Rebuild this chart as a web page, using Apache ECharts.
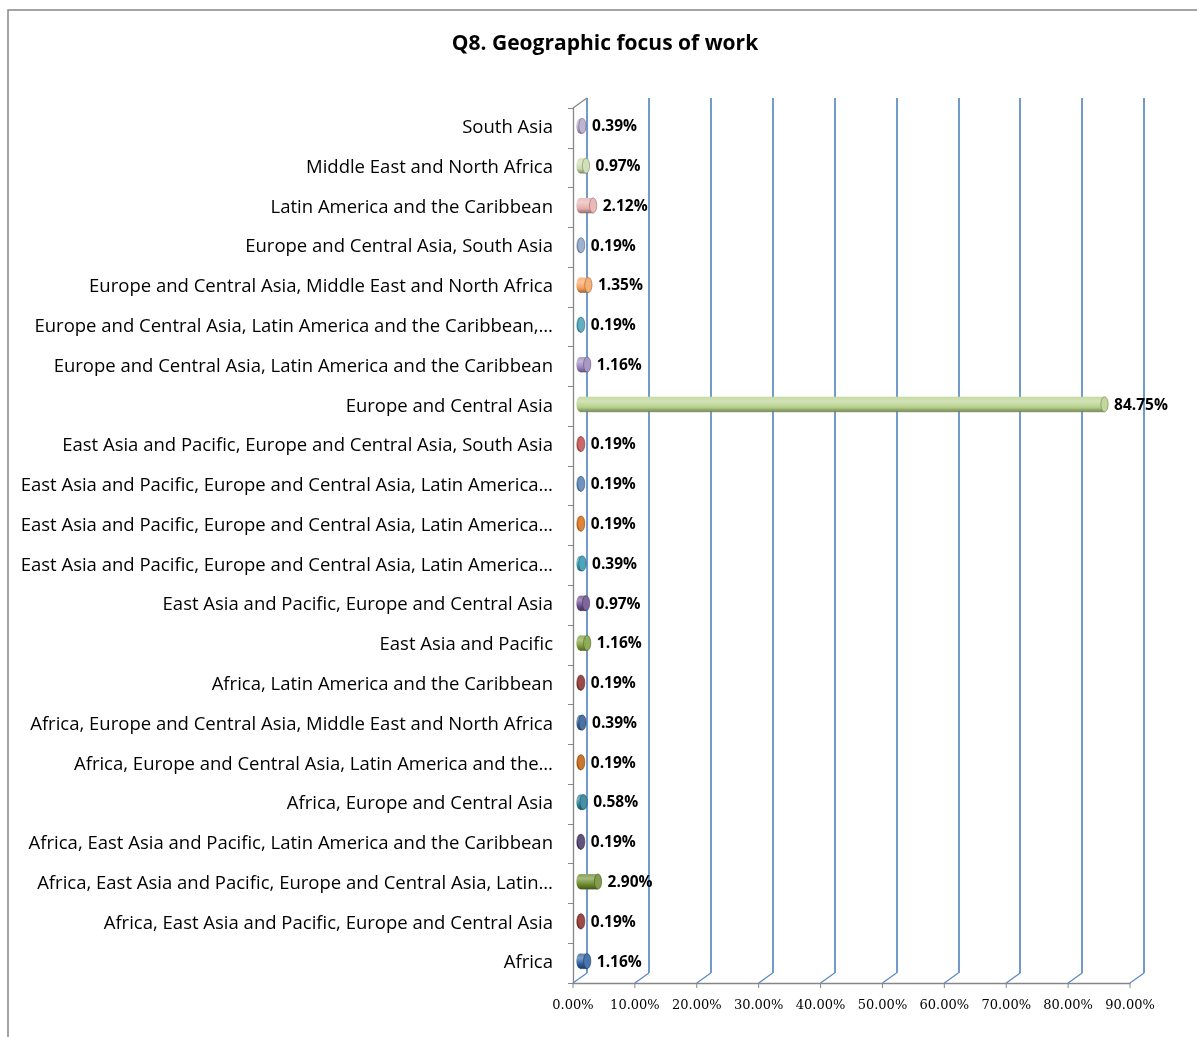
<!DOCTYPE html>
<html>
<head>
<meta charset="utf-8">
<script src="https://cdn.jsdelivr.net/npm/echarts@6/dist/echarts.min.js"></script>
<style>
html,body{margin:0;padding:0;background:#fff;}
#chart{width:1197px;height:1037px;}
</style>
</head>
<body>
<div id="chart"></div>
<script>
// Categories listed bottom-to-top (as drawn on the category axis)
const categories = [
  "Africa",
  "Africa, East Asia and Pacific, Europe and Central Asia",
  "Africa, East Asia and Pacific, Europe and Central Asia, Latin\u2026",
  "Africa, East Asia and Pacific, Latin America and the Caribbean",
  "Africa, Europe and Central Asia",
  "Africa, Europe and Central Asia, Latin America and the\u2026",
  "Africa, Europe and Central Asia, Middle East and North Africa",
  "Africa, Latin America and the Caribbean",
  "East Asia and Pacific",
  "East Asia and Pacific, Europe and Central Asia",
  "East Asia and Pacific, Europe and Central Asia, Latin America\u2026",
  "East Asia and Pacific, Europe and Central Asia, Latin America\u2026",
  "East Asia and Pacific, Europe and Central Asia, Latin America\u2026",
  "East Asia and Pacific, Europe and Central Asia, South Asia",
  "Europe and Central Asia",
  "Europe and Central Asia, Latin America and the Caribbean",
  "Europe and Central Asia, Latin America and the Caribbean,\u2026",
  "Europe and Central Asia, Middle East and North Africa",
  "Europe and Central Asia, South Asia",
  "Latin America and the Caribbean",
  "Middle East and North Africa",
  "South Asia"
];
const values = [1.16, 0.19, 2.90, 0.19, 0.58, 0.19, 0.39, 0.19, 1.16, 0.97, 0.39, 0.19, 0.19, 0.19, 84.75, 1.16, 0.19, 1.35, 0.19, 2.12, 0.97, 0.39];
const barColors = [
  "#2A5C9C", "#8A2B28", "#6B8A2C", "#463664", "#267D94", "#C2600A",
  "#2B5A90", "#882C29", "#7D9D3B", "#674B8B", "#2F96AE", "#D87016",
  "#5480B5", "#C0504D", "#B6D089", "#9A85BB", "#46A0B9", "#F6A25A",
  "#8CA4C8", "#E6ADAC", "#C8DBAA", "#B2A5C9"
];
const xTicks = [0, 10, 20, 30, 40, 50, 60, 70, 80, 90];

function hex2rgb(h){h=h.replace('#','');return [parseInt(h.substr(0,2),16),parseInt(h.substr(2,2),16),parseInt(h.substr(4,2),16)];}
function mix(c1,c2,t){const a=hex2rgb(c1),b=hex2rgb(c2);return 'rgb('+a.map((v,i)=>Math.round(v+(b[i]-v)*t)).join(',')+')';}

const DX = 14, DY = -10; // depth offset of the back wall

function renderBar(params, api){
  const v = api.value(0), idx = api.value(1);
  const s = api.coord([0, idx]), e = api.coord([v, idx]);
  const h = 15, rx = 3.6;
  const base = barColors[params.dataIndex];
  const grad = new echarts.graphic.LinearGradient(0,0,0,1,[
    {offset:0,color:mix(base,'#ffffff',0.2)},
    {offset:0.3,color:mix(base,'#ffffff',0.4)},
    {offset:0.7,color:base},
    {offset:1,color:mix(base,'#000000',0.35)}
  ]);
  const dark = mix(base,'#000000',0.4);
  return {type:'group', children:[
    {type:'ellipse', shape:{cx:s[0], cy:s[1], rx:rx, ry:h/2}, style:{fill:grad}},
    {type:'rect', shape:{x:s[0], y:s[1]-h/2, width:Math.max(e[0]-s[0],0), height:h}, style:{fill:grad}},
    {type:'line', shape:{x1:s[0], y1:s[1]+h/2, x2:e[0], y2:e[1]+h/2}, style:{stroke:dark, lineWidth:0.6}},
    {type:'ellipse', shape:{cx:e[0], cy:e[1], rx:rx, ry:h/2}, style:{fill:mix(base,'#ffffff',0.15), stroke:dark, lineWidth:0.6}},
    {type:'text', style:{text:v.toFixed(2)+'%', x:e[0]+rx+6, y:e[1]+1, verticalAlign:'middle', align:'left', font:'bold 15.5px "Open Sans"', fill:'#000'}}
  ]};
}

function renderFrame(params, api){
  const v = api.value(0);
  const cs = params.coordSys;
  const p = api.coord([v, 0]);
  const yb = cs.y + cs.height;
  const children = [
    {type:'line', shape:{x1:p[0], y1:yb, x2:p[0]+DX, y2:yb+DY}, style:{stroke:'#5B8BC9', lineWidth:1.3}},
    {type:'line', shape:{x1:p[0], y1:yb, x2:p[0], y2:yb+5}, style:{stroke:'#868686', lineWidth:1}}
  ];
  if (v === 0) {
    children.push({type:'line', shape:{x1:p[0], y1:cs.y, x2:p[0]+DX, y2:cs.y+DY}, style:{stroke:'#868686', lineWidth:1.3}});
  }
  return {type:'group', children:children};
}

const chart = echarts.init(document.getElementById('chart'));
const FL = 573, FT = 108, FW = 557, FH = 875;
chart.setOption({
  animation:false,
  backgroundColor:'#fff',
  title:{text:'Q8. Geographic focus of work', left:600, top:29, textAlign:'center',
    textStyle:{fontFamily:'Open Sans', fontWeight:'bold', fontSize:21, color:'#000'}},
  graphic:[{type:'rect', shape:{x:8, y:10, width:1400, height:1200}, style:{fill:'none', stroke:'#878787', lineWidth:1.5}, silent:true}],
  grid:[
    {left:FL, top:FT, width:FW, height:FH},
    {left:FL+DX, top:FT+DY, width:FW, height:FH},
    {left:FL+7, top:FT-2, width:FW, height:FH}
  ],
  xAxis:[
    {gridIndex:0, type:'value', min:0, max:90, interval:10,
      axisLine:{show:true, lineStyle:{color:'#868686', width:1.3}}, axisTick:{show:false},
      splitLine:{show:false},
      axisLabel:{formatter:v=>v.toFixed(2)+'%', margin:16, fontFamily:'DejaVu Serif', fontSize:13, color:'#000'}},
    {gridIndex:1, type:'value', min:0, max:90, interval:10,
      axisLine:{show:false}, axisTick:{show:false}, axisLabel:{show:false},
      splitLine:{show:true, lineStyle:{color:'#4F81BD', width:1.6}}},
    {gridIndex:2, type:'value', min:0, max:90, interval:10, show:false}
  ],
  yAxis:[
    {gridIndex:0, type:'category', data:categories,
      axisLine:{show:true, lineStyle:{color:'#868686', width:1.3}},
      axisTick:{show:true, length:5, lineStyle:{color:'#868686'}},
      axisLabel:{margin:20, fontFamily:'Open Sans', fontSize:18.5, color:'#000', padding:[8,0,0,0]}},
    {gridIndex:1, type:'category', data:categories, show:false},
    {gridIndex:2, type:'category', data:categories, show:false}
  ],
  series:[
    {type:'custom', xAxisIndex:0, yAxisIndex:0, clip:false, silent:true,
      data:xTicks.map(t=>[t,0]), renderItem:renderFrame, z:1},
    {type:'custom', xAxisIndex:2, yAxisIndex:2, clip:false, silent:true,
      data:values.map((v,i)=>[v,i]), renderItem:renderBar, z:5}
  ]
});
</script>
</body>
</html>
